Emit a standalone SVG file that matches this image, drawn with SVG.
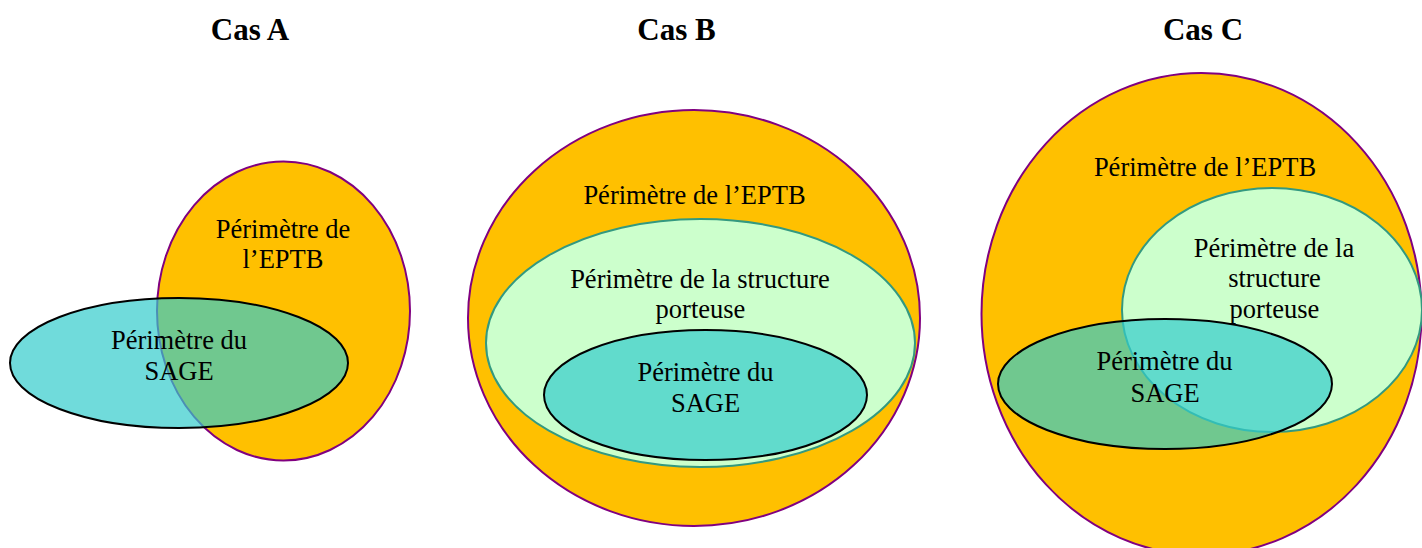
<svg xmlns="http://www.w3.org/2000/svg" width="1422" height="548" viewBox="0 0 1422 548">
<style>
.t{font-family:"Liberation Serif","Times New Roman",serif;font-size:26.5px;fill:#000;text-anchor:middle}
.h{font-family:"Liberation Serif","Times New Roman",serif;font-size:31px;font-weight:bold;fill:#000;text-anchor:middle}
.eptb{fill:#FFC000;stroke:#800080;stroke-width:2}
.struct{fill:#CCFFCC;stroke:#339980;stroke-width:2}
.sage{fill:#33CCCC;fill-opacity:0.7;stroke:#000;stroke-width:2}
</style>
<rect width="1422" height="548" fill="#fff"/>
<g id="titles">
<text class="h" x="250" y="40">Cas A</text>
<text class="h" x="676.5" y="40">Cas B</text>
<text class="h" x="1203" y="40">Cas C</text>
</g>
<g id="casA-eptb">
<ellipse class="eptb" cx="283.5" cy="311" rx="126.5" ry="149.5"/>
<text class="t" x="283" y="238">Périmètre de</text>
<text class="t" x="283" y="268">l’EPTB</text>
</g>
<g id="casA-sage">
<ellipse class="sage" cx="179" cy="363" rx="169" ry="65"/>
<text class="t" x="179" y="349">Périmètre du</text>
<text class="t" x="179" y="380">SAGE</text>
</g>
<g id="casB-eptb">
<ellipse class="eptb" cx="694" cy="318" rx="226" ry="208"/>
<text class="t" x="694.5" y="204">Périmètre de l’EPTB</text>
</g>
<g id="casB-structure">
<ellipse class="struct" cx="700.5" cy="343" rx="214.5" ry="124"/>
<text class="t" x="700" y="288">Périmètre de la structure</text>
<text class="t" x="700.5" y="318">porteuse</text>
</g>
<g id="casB-sage">
<ellipse class="sage" cx="705.5" cy="395" rx="161.5" ry="65"/>
<text class="t" x="705.5" y="381">Périmètre du</text>
<text class="t" x="705.5" y="412">SAGE</text>
</g>
<g id="casC-eptb">
<ellipse class="eptb" cx="1201.5" cy="314" rx="220" ry="241"/>
<text class="t" x="1205" y="176">Périmètre de l’EPTB</text>
</g>
<g id="casC-structure">
<ellipse class="struct" cx="1272" cy="310" rx="150" ry="122"/>
<text class="t" x="1274" y="257">Périmètre de la</text>
<text class="t" x="1274.5" y="287">structure</text>
<text class="t" x="1274.5" y="318">porteuse</text>
</g>
<g id="casC-sage">
<ellipse class="sage" cx="1165" cy="384" rx="167" ry="65"/>
<text class="t" x="1164.5" y="370">Périmètre du</text>
<text class="t" x="1165" y="402">SAGE</text>
</g>
<g id="connectors"></g>
</svg>
